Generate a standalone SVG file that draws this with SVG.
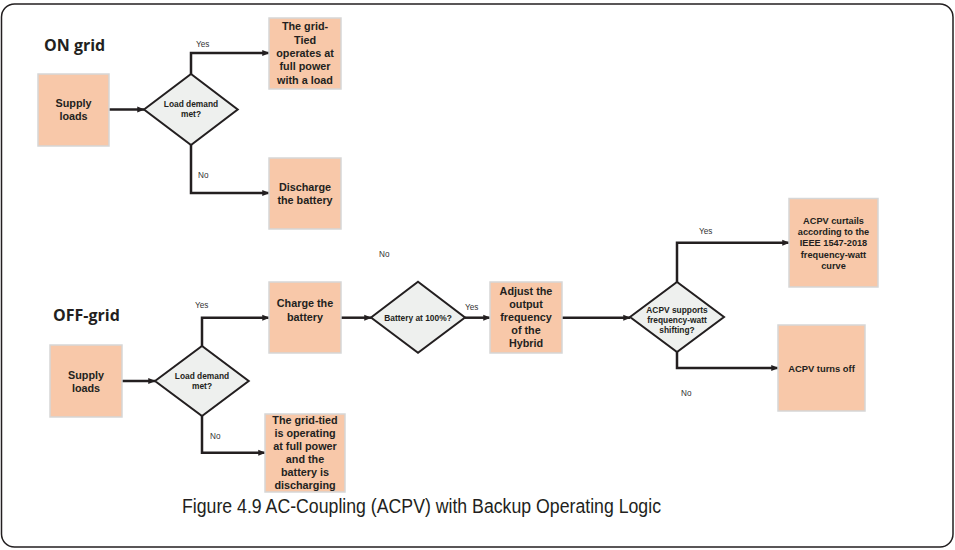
<svg xmlns="http://www.w3.org/2000/svg" width="955" height="550" viewBox="0 0 955 550">
  <style>
    .box { fill: #F8C8A9; stroke: #D6D6D6; stroke-width: 1.5; }
    .dia { fill: #EEF0EE; stroke: #231F20; stroke-width: 2; }
    .bt { font-family: "Liberation Sans", Arial, sans-serif; font-weight: bold; font-size: 10.8px; fill: #231F20; text-anchor: middle; }
    .dt { font-family: "Liberation Sans", Arial, sans-serif; font-weight: bold; font-size: 8.4px; fill: #231F20; text-anchor: middle; }
    .lbl { font-family: "Liberation Sans", Arial, sans-serif; font-size: 8.2px; fill: #333333; }
    .title { font-family: "Open Sans", "Liberation Sans", sans-serif; font-weight: bold; font-size: 16px; fill: #231F20; }
    .cap { font-family: "Liberation Sans Narrow", "Liberation Sans", Arial, sans-serif; font-size: 20px; fill: #231F20; }
    .conn { fill: none; stroke: #231F20; stroke-width: 2.5; marker-end: url(#arr); }
  </style>
  <defs>
    <marker id="arr" viewBox="0 0 10 10" refX="9" refY="5" markerWidth="3" markerHeight="3" orient="auto" markerUnits="strokeWidth">
      <path d="M0,1 L10,5 L0,9 z" fill="#231F20"/>
    </marker>
  </defs>

  <!-- outer frame -->
  <rect x="1.5" y="4" width="951.5" height="543" rx="13" fill="#FFFFFF" stroke="#231F20" stroke-width="1.5"/>

  <!-- section titles -->
  <text class="title" x="44" y="51">ON grid</text>
  <text class="title" x="53" y="321">OFF-grid</text>

  <!-- connectors -->
  <g id="connectors">
    <path class="conn" d="M109,109.5 H144"/>
    <path class="conn" d="M191,74 V53 H269"/>
    <path class="conn" d="M191,145 V193 H269"/>
    <path class="conn" d="M122,381 H155"/>
    <path class="conn" d="M202,346 V317.7 H269"/>
    <path class="conn" d="M202,416 V452.7 H265"/>
    <path class="conn" d="M341,317.7 H371"/>
    <path class="conn" d="M465,317.7 H490"/>
    <path class="conn" d="M562,317.7 H630"/>
    <path class="conn" d="M677,282 V242.7 H789"/>
    <path class="conn" d="M677,352 V368 H778"/>
  </g>

  <!-- connector labels -->
  <g id="labels">
    <text class="lbl" x="196" y="47">Yes</text>
    <text class="lbl" x="198" y="178">No</text>
    <text class="lbl" x="195" y="308">Yes</text>
    <text class="lbl" x="210" y="439">No</text>
    <text class="lbl" x="379" y="257">No</text>
    <text class="lbl" x="465" y="310">Yes</text>
    <text class="lbl" x="699" y="234">Yes</text>
    <text class="lbl" x="681" y="396">No</text>
  </g>

  <!-- ON grid -->
  <g id="on-supply">
    <rect class="box" x="38" y="74" width="71" height="72"/>
    <text class="bt" x="73.5" y="107">Supply</text>
    <text class="bt" x="73.5" y="120">loads</text>
  </g>
  <g id="on-decision">
    <polygon class="dia" points="144,109.5 191,74 237.7,109.5 191,145"/>
    <text class="dt" x="191" y="107">Load demand</text>
    <text class="dt" x="191" y="117">met?</text>
  </g>
  <g id="on-full-power">
    <rect class="box" x="269" y="18" width="72" height="71"/>
    <text class="bt" x="305" y="30">The grid-</text>
    <text class="bt" x="305" y="43.5">Tied</text>
    <text class="bt" x="305" y="57">operates at</text>
    <text class="bt" x="305" y="70">full power</text>
    <text class="bt" x="305" y="83.5">with a load</text>
  </g>
  <g id="on-discharge">
    <rect class="box" x="269" y="158" width="72" height="71"/>
    <text class="bt" x="305" y="190.5">Discharge</text>
    <text class="bt" x="305" y="204">the battery</text>
  </g>

  <!-- OFF grid -->
  <g id="off-supply">
    <rect class="box" x="50" y="345" width="72" height="72"/>
    <text class="bt" x="86" y="378.5">Supply</text>
    <text class="bt" x="86" y="391.5">loads</text>
  </g>
  <g id="off-decision">
    <polygon class="dia" points="155,381 202,346 248.7,381 202,416"/>
    <text class="dt" x="202" y="379">Load demand</text>
    <text class="dt" x="202" y="389">met?</text>
  </g>
  <g id="off-charge">
    <rect class="box" x="269" y="282" width="72" height="71"/>
    <text class="bt" x="305" y="307">Charge the</text>
    <text class="bt" x="305" y="320.5">battery</text>
  </g>
  <g id="off-discharging">
    <rect class="box" x="265" y="414" width="80" height="78"/>
    <text class="bt" x="305" y="424">The grid-tied</text>
    <text class="bt" x="305" y="437">is operating</text>
    <text class="bt" x="305" y="450">at full power</text>
    <text class="bt" x="305" y="463">and the</text>
    <text class="bt" x="305" y="476">battery is</text>
    <text class="bt" x="305" y="489">discharging</text>
  </g>
  <g id="battery-full">
    <polygon class="dia" points="371,317.5 418,281.7 465,317.5 418,352.7"/>
    <text class="dt" x="418" y="321">Battery at 100%?</text>
  </g>
  <g id="adjust-frequency">
    <rect class="box" x="490" y="282" width="72" height="71"/>
    <text class="bt" x="526" y="295">Adjust the</text>
    <text class="bt" x="526" y="308">output</text>
    <text class="bt" x="526" y="321">frequency</text>
    <text class="bt" x="526" y="334">of the</text>
    <text class="bt" x="526" y="347">Hybrid</text>
  </g>
  <g id="acpv-decision">
    <polygon class="dia" points="630,317 677,282 724,317 677,352"/>
    <text class="dt" x="677" y="312.5">ACPV supports</text>
    <text class="dt" x="677" y="322.5">frequency-watt</text>
    <text class="dt" x="677" y="332.5">shifting?</text>
  </g>
  <g id="acpv-curtails">
    <rect class="box" x="789" y="198.5" width="89" height="88.5"/>
    <text class="bt" x="833.5" y="224" style="font-size:9.2px">ACPV curtails</text>
    <text class="bt" x="833.5" y="235" style="font-size:9.2px">according to the</text>
    <text class="bt" x="833.5" y="246" style="font-size:9.2px">IEEE 1547-2018</text>
    <text class="bt" x="833.5" y="257.5" style="font-size:9.2px">frequency-watt</text>
    <text class="bt" x="833.5" y="268.5" style="font-size:9.2px">curve</text>
  </g>
  <g id="acpv-off">
    <rect class="box" x="778" y="325" width="87" height="86"/>
    <text class="bt" x="821.5" y="371.5" style="font-size:9.4px">ACPV turns off</text>
  </g>

  <!-- caption -->
  <text class="cap" x="182" y="513" textLength="479" lengthAdjust="spacingAndGlyphs">Figure 4.9 AC-Coupling (ACPV) with Backup Operating Logic</text>
</svg>
